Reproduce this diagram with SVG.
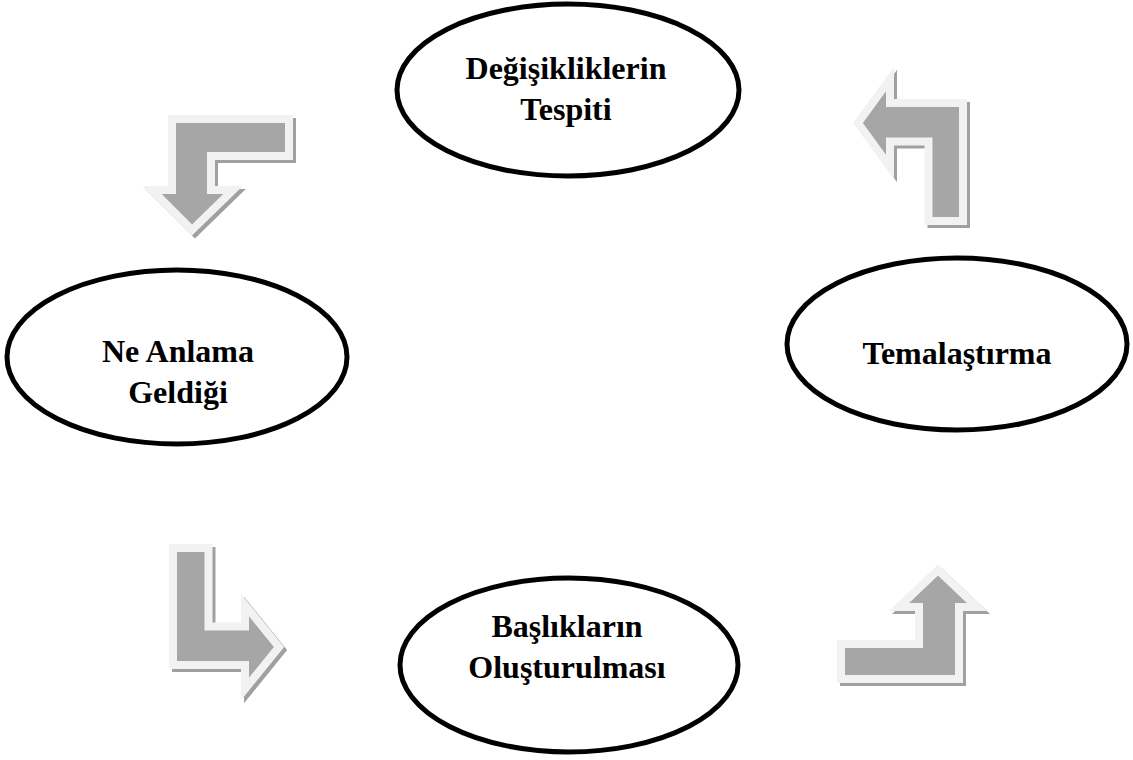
<svg xmlns="http://www.w3.org/2000/svg" width="1133" height="760" viewBox="0 0 1133 760">
<style>
.node ellipse{fill:#fff;stroke:#000;stroke-width:5}
.node text{font-family:"Liberation Serif","Times New Roman",serif;font-weight:bold;font-size:32px;text-anchor:middle;fill:#000}
.sh{fill:#a0a0a0;stroke:#a0a0a0;stroke-width:8;stroke-linejoin:miter}
.ar{fill:#a6a6a6;stroke:#f2f2f2;stroke-width:8;stroke-linejoin:miter}
</style>
<rect width="1133" height="760" fill="#fff"/>
<g id="connectors">
<g id="arrow-top-left">
<path class="sh" transform="translate(3,3)" d="M172,119 L289,119 L289,156 L211,156 L211,190 L233,190 L192,230 L152,190 L172,190 Z"/>
<path class="ar" d="M172,119 L289,119 L289,156 L211,156 L211,190 L233,190 L192,230 L152,190 L172,190 Z"/>
</g>
<g id="arrow-top-right">
<path class="sh" transform="translate(3,3)" d="M963,103 L963,221 L928.5,221 L928.5,141.5 L890,141.5 L890,167 L858,123 L890,79 L890,103 Z"/>
<path class="ar" d="M963,103 L963,221 L928.5,221 L928.5,141.5 L890,141.5 L890,167 L858,123 L890,79 L890,103 Z"/>
</g>
<g id="arrow-bottom-left">
<path class="sh" transform="translate(3,3)" d="M173,548 L208.5,548 L208.5,626.5 L245,626.5 L245,605 L279,647 L245,689 L245,665 L173,665 Z"/>
<path class="ar" d="M173,548 L208.5,548 L208.5,626.5 L245,626.5 L245,605 L279,647 L245,689 L245,665 L173,665 Z"/>
</g>
<g id="arrow-bottom-right">
<path class="sh" transform="translate(3,3)" d="M841,644 L919,644 L919,607 L899,607 L938,570 L977,607 L959,607 L959,679 L841,679 Z"/>
<path class="ar" d="M841,644 L919,644 L919,607 L899,607 L938,570 L977,607 L959,607 L959,679 L841,679 Z"/>
</g>
</g>
<g id="node-top" class="node">
<ellipse cx="568" cy="90" rx="171" ry="86"/>
<text x="566" y="79">Değişikliklerin</text>
<text x="566" y="120">Tespiti</text>
</g>
<g id="node-left" class="node">
<ellipse cx="177" cy="357" rx="170" ry="87"/>
<text x="178" y="362">Ne Anlama</text>
<text x="178" y="403">Geldiği</text>
</g>
<g id="node-right" class="node">
<ellipse cx="957" cy="344" rx="170" ry="86"/>
<text x="957" y="364">Temalaştırma</text>
</g>
<g id="node-bottom" class="node">
<ellipse cx="569" cy="665" rx="169" ry="87"/>
<text x="567" y="637">Başlıkların</text>
<text x="567" y="678">Oluşturulması</text>
</g>
</svg>
